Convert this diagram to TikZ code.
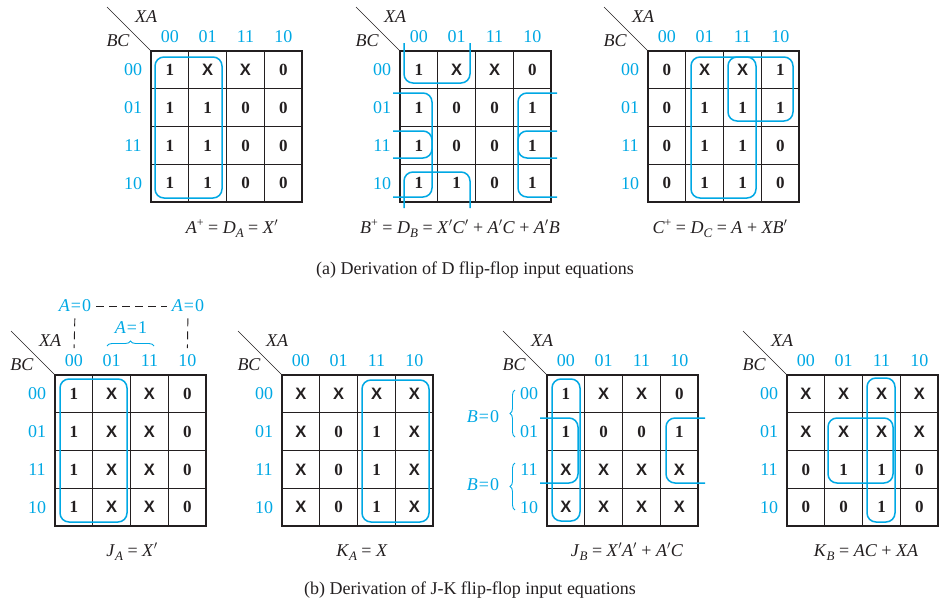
\documentclass[tikz,border=0pt]{standalone}
\usepackage{fontspec}
\setmainfont{Liberation Serif}
\setsansfont{Liberation Sans}
\usetikzlibrary{decorations.pathreplacing}
\definecolor{kcyan}{RGB}{0,168,228}
\definecolor{kink}{RGB}{35,31,32}
\newcommand{\KX}{{\sffamily\bfseries\fontsize{16.5}{18}\selectfont X}}
\newcommand{\iv}[1]{\textit{#1}}
\newcommand{\kp}{$'$}
\newcommand{\ksub}[1]{\raisebox{-0.5ex}{\fontsize{13}{14}\selectfont\itshape #1}}
\newcommand{\ksup}{\raisebox{0.8ex}{\fontsize{12}{13}\selectfont +}}
\tikzset{
 kcell/.style={inner sep=0pt, font=\bfseries\fontsize{17}{18}\selectfont, text=kink},
 klab/.style={inner sep=0pt, text=kcyan, font=\fontsize{18}{20}\selectfont},
 kvar/.style={inner sep=0pt, text=kink, font=\itshape\fontsize{18}{20}\selectfont},
 kgridin/.style={draw=kink, line width=0.9pt},
 kgridout/.style={draw=kink, line width=1.8pt},
 kloop/.style={draw=kcyan, line width=1.5pt, rounded corners=9pt},
 keq/.style={inner sep=0pt, text=kink, anchor=base, font=\fontsize{18}{20}\selectfont},
 kdash/.style={draw=kink, line width=0.9pt, dash pattern=on 8pt off 5pt},
 kbrace/.style={draw=kcyan, line width=0.9pt, decorate, decoration={brace, amplitude=5pt}},
}
\newcommand{\kmap}[4]{%
\begin{scope}[shift={(#2,#3)}]
 \foreach \kk in {1,2,3} {
   \draw[kgridin] (\kk*37.8,0) -- (\kk*37.8,151.2);
   \draw[kgridin] (0,\kk*37.8) -- (151.2,\kk*37.8);
 }
 \draw[kgridout] (0,0) rectangle (151.2,151.2);
 \foreach \kv [count=\ki from 0] in {#4} {
   \pgfmathtruncatemacro{\kr}{int(\ki/4)}
   \pgfmathtruncatemacro{\kc}{mod(\ki,4)}
   \node[kcell] (#1-\ki) at (\kc*37.8+18.9, \kr*37.8+18.9) {\kv};
 }
 \foreach \kt [count=\ki from 0] in {00,01,11,10} {
   \node[klab] (#1-c\ki) at (\ki*37.8+18.9,-14.5) {\kt};
   \node[klab] (#1-r\ki) at (-18,\ki*37.8+18.9) {\kt};
 }
 \coordinate (#1-o) at (0,0);
 \coordinate (#1-d) at (-44,-44);
 \draw[kink, line width=0.7pt] (#1-d) -- (#1-o);
 \node[kvar] (#1-xa) at (-5,-34) {XA};
 \node[kvar] (#1-bc) at (-33,-10) {BC};
\end{scope}}
\begin{document}
\begin{tikzpicture}[x=1pt,y=-1pt]
\useasboundingbox (0,0) rectangle (946,600);
% ---------- (a) ----------
\kmap{a1}{151}{51}{1,\KX,\KX,0, 1,1,0,0, 1,1,0,0, 1,1,0,0}
\kmap{a2}{400}{51}{1,\KX,\KX,0, 1,0,0,1, 1,0,0,1, 1,1,0,1}
\kmap{a3}{648}{51}{0,\KX,\KX,1, 0,1,1,1, 0,1,1,0, 0,1,1,0}
% loops a1
\draw[kloop] (155,57) rectangle (222,198);
% loops a2
\draw[kloop] (404,43) -- (404,83) -- (470,83) -- (470,43);
\draw[kloop] (404,208) -- (404,172) -- (470,172) -- (470,208);
\draw[kloop] (393,93) -- (432,93) -- (432,158) -- (393,158);
\draw[kloop] (393,131) -- (432,131) -- (432,197) -- (393,197);
\draw[kloop] (557,93) -- (518,93) -- (518,158) -- (557,158);
\draw[kloop] (557,131) -- (518,131) -- (518,197) -- (557,197);
% loops a3
\draw[kloop] (691,57) rectangle (756,198);
\draw[kloop] (728,57) rectangle (793,121);
% equations (a)
\node[keq] (eqa1) at (232,233) {\iv{A}\ksup{} = \iv{D}\ksub{A} = \iv{X}\kp};
\node[keq] (eqa2) at (460,233) {\iv{B}\ksup{} = \iv{D}\ksub{B} = \iv{X}\kp\iv{C}\kp{} + \iv{A}\kp\iv{C} + \iv{A}\kp\iv{B}};
\node[keq] (eqa3) at (720,233) {\iv{C}\ksup{} = \iv{D}\ksub{C} = \iv{A} + \iv{XB}\kp};
\node[keq] (capa) at (475,274) {(a) Derivation of D flip-flop input equations};
% ---------- (b) ----------
\kmap{b1}{55}{375}{1,\KX,\KX,0, 1,\KX,\KX,0, 1,\KX,\KX,0, 1,\KX,\KX,0}
\kmap{b2}{282}{375}{\KX,\KX,\KX,\KX, \KX,0,1,\KX, \KX,0,1,\KX, \KX,0,1,\KX}
\kmap{b3}{547}{375}{1,\KX,\KX,0, 1,0,0,1, \KX,\KX,\KX,\KX, \KX,\KX,\KX,\KX}
\kmap{b4}{787}{375}{\KX,\KX,\KX,\KX, \KX,\KX,\KX,\KX, 0,1,1,0, 0,0,1,0}
% loops b
\draw[kloop] (60,379) rectangle (127,522);
\draw[kloop] (362,380) rectangle (429,522);
\draw[kloop] (552,379) rectangle (580,521);
\draw[kloop] (540,418) -- (578,418) -- (578,483) -- (540,483);
\draw[kloop] (705,418) -- (666,418) -- (666,483) -- (705,483);
\draw[kloop] (867,378) rectangle (895,522);
\draw[kloop] (828,418) rectangle (893,483);
% annotations b1
\node[klab] (b1-al) at (75,306) {\iv{A}\kern1pt=\kern1pt0};
\node[klab] (b1-ar) at (188,306) {\iv{A}\kern1pt=\kern1pt0};
\node[klab] (b1-a1) at (131,328) {\iv{A}\kern1pt=\kern1pt1};
\draw[kdash, shorten <=5pt, shorten >=5pt] (b1-al.east) -- (b1-ar.west);
\draw[kdash, shorten <=6pt, shorten >=6pt] (b1-al.south) -- (b1-c0.north);
\draw[kdash, shorten <=6pt, shorten >=6pt] (b1-ar.south) -- (b1-c3.north);
\coordinate (b1-bl) at (107,346);
\coordinate (b1-br) at (154,346);
\draw[kbrace] (b1-bl) -- (b1-br);
% annotations b3
\node[klab] (b3-b0a) at (483,417) {\iv{B}\kern1pt=\kern1pt0};
\node[klab] (b3-b0b) at (483,485) {\iv{B}\kern1pt=\kern1pt0};
\coordinate (b3-t1) at (515,390);
\coordinate (b3-u1) at (515,437);
\coordinate (b3-t2) at (515,463);
\coordinate (b3-u2) at (515,510);
\draw[kbrace] (b3-u1) -- (b3-t1);
\draw[kbrace] (b3-u2) -- (b3-t2);
% equations (b)
\node[keq] (eqb1) at (132,556) {\iv{J}\ksub{A} = \iv{X}\kp};
\node[keq] (eqb2) at (362,556) {\iv{K}\ksub{A} = \iv{X}};
\node[keq] (eqb3) at (627,556) {\iv{J}\ksub{B} = \iv{X}\kp\iv{A}\kp{} + \iv{A}\kp\iv{C}};
\node[keq] (eqb4) at (866,556) {\iv{K}\ksub{B} = \iv{AC} + \iv{XA}};
\node[keq] (capb) at (470,594) {(b) Derivation of J-K flip-flop input equations};
\end{tikzpicture}
\end{document}
